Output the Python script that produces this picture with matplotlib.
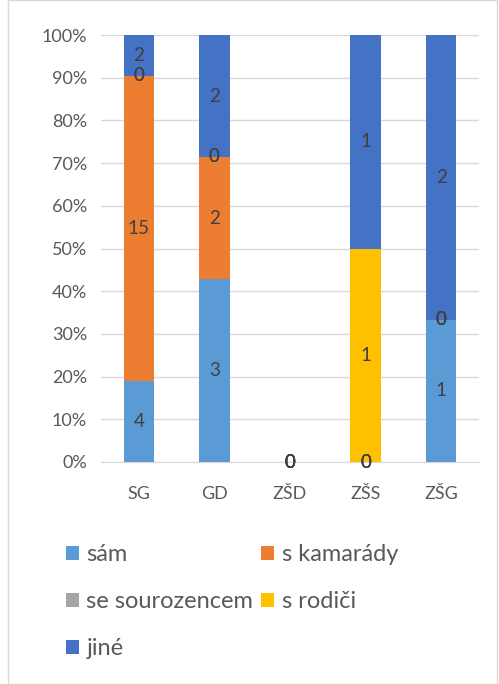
import numpy as np
import matplotlib
matplotlib.use("Agg")
import matplotlib.pyplot as plt
from matplotlib.patches import Rectangle

plt.rcParams['font.family'] = ['Lato', 'DejaVu Sans']

# Data
categories = ['SG', 'GD', 'ZŠD', 'ZŠS', 'ZŠG']
series_names = ['sám', 's kamarády', 'se sourozencem', 's rodiči', 'jiné']
sam = [4, 3, 0, 0, 1]
s_kamarady = [15, 2, 0, 0, 0]
se_sourozencem = [0, 0, 0, 0, 0]
s_rodici = [0, 0, 0, 1, 0]
jine = [2, 2, 0, 1, 2]
colors = ['#5B9BD5', '#ED7D31', '#A5A5A5', '#FFC000', '#4472C4']

counts = np.array([sam, s_kamarady, se_sourozencem, s_rodici, jine], dtype=float)
totals = counts.sum(axis=0)
shares = np.divide(counts, totals, out=np.zeros_like(counts), where=totals > 0)

fig = plt.figure(figsize=(4.99, 6.84), dpi=100)
ax = fig.add_axes([101/499, 222/684, 378/499, 427/684])

x = np.arange(len(categories))
bottom = np.zeros(len(categories))
handles = []
for i, name in enumerate(series_names):
    b = ax.bar(x, shares[i], 0.4, bottom=bottom, color=colors[i], label=name, zorder=3)
    handles.append(b)
    for j in range(len(categories)):
        ax.text(x[j], bottom[j] + shares[i][j] / 2, f'{int(counts[i][j])}',
                ha='center', va='center', fontsize=13.5, color='#404040', zorder=4)
    bottom += shares[i]

ax.set_xlim(-0.5, len(categories) - 0.5)
ax.set_ylim(0, 1)
ax.set_yticks(np.arange(0, 1.01, 0.1))
ax.set_yticklabels([f'{int(round(v*100))}%' for v in np.arange(0, 1.01, 0.1)])
ax.set_xticks(x)
ax.set_xticklabels(categories)
ax.tick_params(axis='y', length=0, pad=10, labelsize=13, labelcolor='#595959')
ax.tick_params(axis='x', length=0, pad=17, labelsize=13, labelcolor='#595959')
ax.yaxis.grid(True, color='#D9D9D9', linewidth=1, zorder=0)
for s in ['top', 'right', 'left']:
    ax.spines[s].set_visible(False)
ax.spines['bottom'].set_color('#D9D9D9')
ax.spines['bottom'].set_zorder(2)

# legend order: column-wise fill
order = [0, 2, 4, 1, 3]
fig.legend([handles[k] for k in order], [series_names[k] for k in order],
           ncol=2, loc='upper left', bbox_to_anchor=(45/499, 1 - 523/684),
           frameon=False, fontsize=17, handlelength=0.55, handleheight=0.55,
           handletextpad=0.3, labelspacing=1.1, columnspacing=0.35,
           labelcolor='#595959')

# chart border
fig.add_artist(Rectangle((8/499, 0), 1 - 10/499, 1, transform=fig.transFigure,
                         fill=False, edgecolor='#D9D9D9', linewidth=1))

fig.savefig('out.png', dpi=100)
